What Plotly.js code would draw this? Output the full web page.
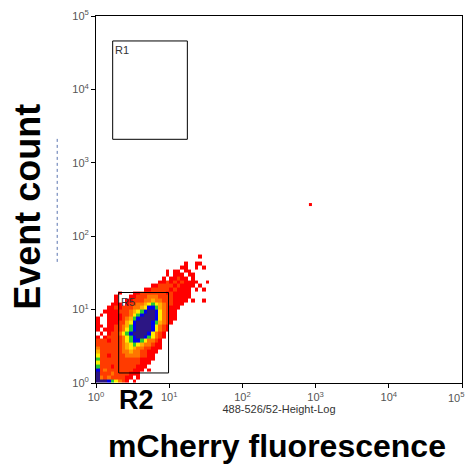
<!DOCTYPE html>
<html><head><meta charset="utf-8">
<script src="https://cdn.plot.ly/plotly-3.0.1.min.js"></script>
<style>html,body{margin:0;padding:0;background:#fff}#chart{width:467px;height:464px}</style>
</head><body><div id="chart"></div>
<script>
// ---- data ----
// density plot: bins of 0.05 decades on both log axes, starting at 10^0.
// Each row (listed from top bin to bottom bin) gives the first non-empty column and
// a string of colour levels (1 = few events ... 8 = most events, '.' = empty).
const binStepDecades = 0.05;
const densityColumns = 33;
const densityRowStart = [28,0,24,23,19,19,18,17,15,13,6,5,5,4,3,2,1,0,0,0,0,1,0,0,0,0,0,0,0,0,0,0,0,0,0];
const densityRowLevels = [
  "1",
  "",
  "1..11",
  "11..1.1",
  "1.11.11",
  "1.111.11",
  "1.11211.1",
  "11212121111..1",
  "112222121111.1",
  "1122222121111.1.1",
  "1...1122222221211111",
  "1...11222333222211111",
  "1..11222334332221111.1..1",
  "111.1223345654322111",
  "11212223345776432111",
  "11112223456788753211",
  "1.1111223567888753211",
  "1..1111234678888753211",
  "1..111224578888764321",
  "11.11223467888875321",
  "1.111223567888875321",
  "1.1223567888875321",
  "1.12222356788765321",
  "222122235677653321",
  "222222234565433211",
  "322222234543322111",
  "42222223343322111",
  "5221222233332211",
  "6222222222221111",
  "522222222222111",
  "62221222222111",
  "7232222222111.1",
  "822232222111",
  "8323222211.1",
  "888765321.1"
];
const levelColors = ['#ff0000','#ff3b00','#ff7600','#ffb000','#ffee00','#28c832','#0000f0','#2c1684'];
// single event far from the population
const outlierX = [850];
const outlierY = [270];
// gates
const gateNames = ['R1','R5'];
const gateX0 = [1.69, 2.04];
const gateX1 = [17.7, 9.8];
const gateY0 = [2090, 1.37];
const gateY1 = [45700, 17.1];
// ticks
const tickVals = [1,10,100,1000,10000,100000];
const tickText = ['10<sup>0</sup>','10<sup>1</sup>','10<sup>2</sup>','10<sup>3</sup>','10<sup>4</sup>','10<sup>5</sup>'];

// ---- build the heatmap table ----
const nRows = densityRowLevels.length;
const z = [];
for (let r = nRows - 1; r >= 0; r--) {
  const row = new Array(densityColumns).fill(null);
  const s = densityRowLevels[r];
  for (let k = 0; k < s.length; k++) {
    const ch = s[k];
    if (ch !== '.') row[densityRowStart[r] + k] = Number(ch);
  }
  z.push(row);
}
const xEdges = [], yEdges = [];
for (let k = 0; k <= densityColumns; k++) xEdges.push(Math.pow(10, k * binStepDecades));
for (let k = 0; k <= nRows; k++) yEdges.push(Math.pow(10, k * binStepDecades));
const cs = [];
levelColors.forEach((c, k) => { cs.push([k / levelColors.length, c]); cs.push([(k + 1) / levelColors.length, c]); });

const FONT = 'Liberation Sans, Arial, Helvetica, sans-serif';
const TICKFONT = {family: FONT, size: 11, color: '#555'};
const traces = [
  {type: 'heatmap', x: xEdges, y: yEdges, z: z, colorscale: cs, zmin: 0.5, zmax: levelColors.length + 0.5,
   showscale: false, hoverinfo: 'skip'},
  {type: 'scatter', mode: 'markers', x: outlierX, y: outlierY,
   marker: {symbol: 'square', size: 3, color: '#ff0000', line: {width: 0}}, hoverinfo: 'skip'}
];

const shapes = gateNames.map((g, i) => ({type: 'rect', xref: 'x', yref: 'y',
  x0: gateX0[i], x1: gateX1[i], y0: gateY0[i], y1: gateY1[i], line: {color: '#000', width: 1}}));
shapes.push({type: 'line', xref: 'paper', yref: 'paper', x0: -0.106, x1: -0.106, y0: 0.33, y1: 0.67,
  line: {color: '#5a74b0', width: 1, dash: 'dot'}});

const annotations = gateNames.map((g, i) => ({text: g, x: Math.log10(gateX0[i]), y: Math.log10(gateY1[i]),
  xref: 'x', yref: 'y', xanchor: 'left', yanchor: 'top', showarrow: false, xshift: 0, yshift: -1,
  font: {family: FONT, size: 11, color: '#333'}}));
// last x tick label sits just inside the right edge of the picture
const lastTick = tickVals.length - 1;
annotations.push({text: tickText[lastTick], xref: 'x', yref: 'paper', x: Math.log10(tickVals[lastTick]), y: 0,
  xanchor: 'right', yanchor: 'top', xshift: 5, yshift: -5, showarrow: false, font: TICKFONT});
annotations.push({text: '<b>R2</b>', xref: 'paper', yref: 'paper', x: 0.112, y: -0.046,
  xanchor: 'center', yanchor: 'middle', showarrow: false, font: {family: FONT, size: 27, color: '#000'}});
annotations.push({text: '<b>mCherry fluorescence</b>', xref: 'paper', yref: 'paper', x: 0.494, y: -0.172,
  xanchor: 'center', yanchor: 'middle', showarrow: false, font: {family: FONT, size: 32, color: '#000'}});
annotations.push({text: '<b>Event count</b>', xref: 'paper', yref: 'paper', x: -0.186, y: 0.48, textangle: -90,
  xanchor: 'center', yanchor: 'middle', showarrow: false, font: {family: FONT, size: 36, color: '#000'}});

const axisCommon = {type: 'log', range: [0, 5], showline: true, linecolor: '#000', linewidth: 1, mirror: true,
  ticks: 'outside', ticklen: 4, tickwidth: 1, tickcolor: '#000', tickvals: tickVals,
  tickfont: TICKFONT, showgrid: false, zeroline: false};

const layout = {
  width: 467, height: 464, margin: {l: 96, r: 5, t: 16, b: 81},
  paper_bgcolor: '#fff', plot_bgcolor: '#fff', showlegend: false,
  xaxis: Object.assign({}, axisCommon, {ticktext: tickText.map((t, i) => i === lastTick ? '' : t),
    title: {text: '488-526/52-Height-Log', font: {family: FONT, size: 11, color: '#333'}, standoff: 1}}),
  yaxis: Object.assign({}, axisCommon, {ticktext: tickText}),
  shapes: shapes, annotations: annotations
};
Plotly.newPlot('chart', traces, layout, {staticPlot: true, displayModeBar: false});
</script></body></html>
